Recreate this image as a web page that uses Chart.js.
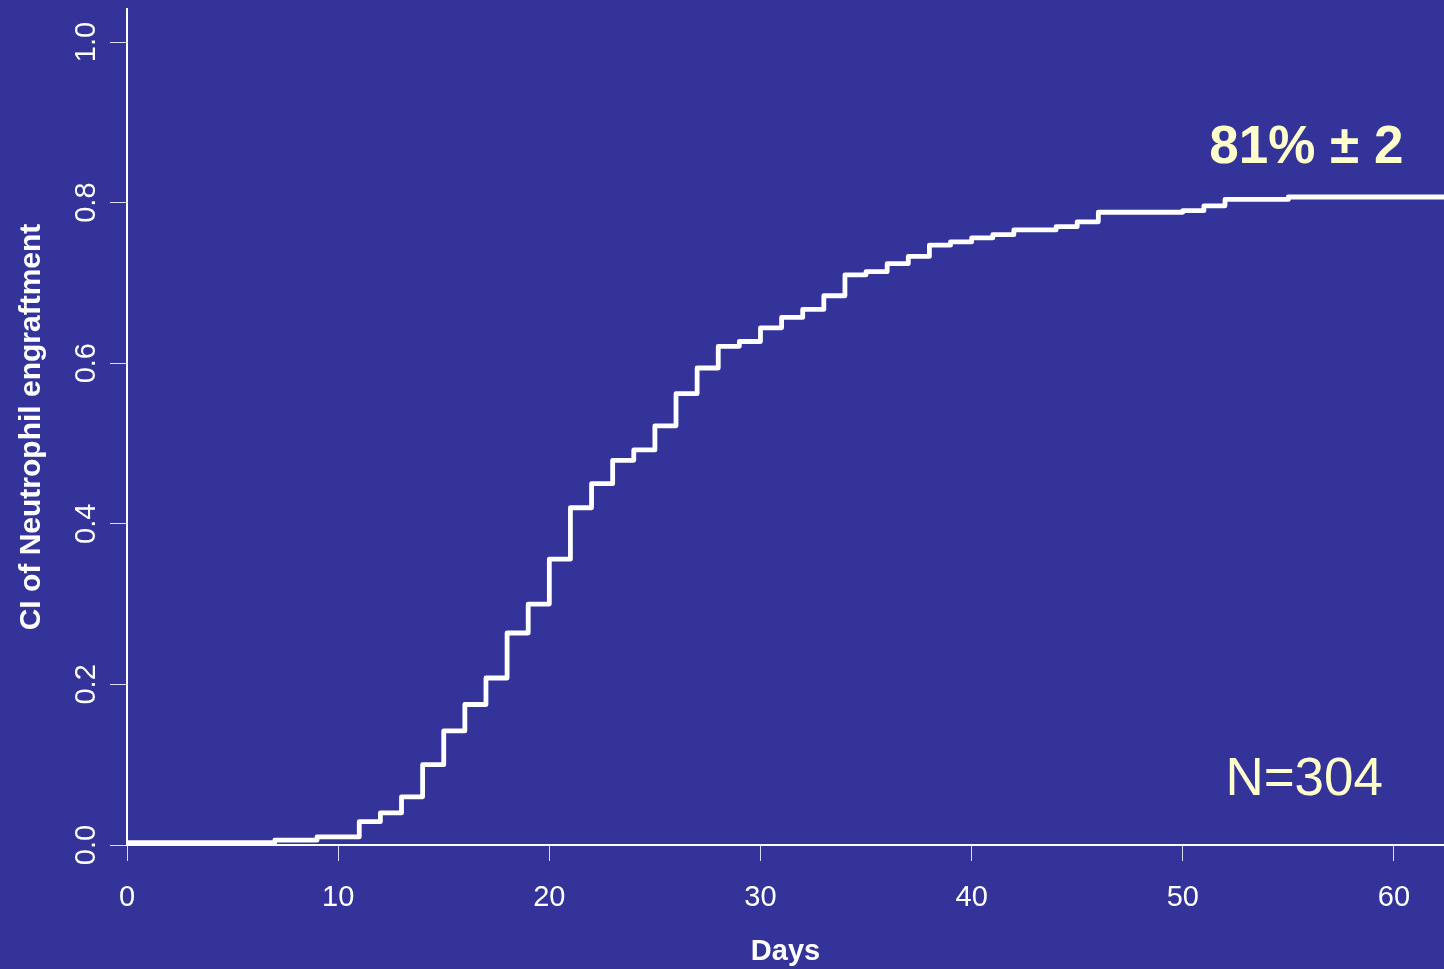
<!DOCTYPE html>
<html>
<head>
<meta charset="utf-8">
<script src="https://cdn.jsdelivr.net/npm/chart.js@4.4.1/dist/chart.umd.min.js"></script>
<style>
  html, body { margin: 0; padding: 0; background: #333399; }
  #wrap { width: 1444px; height: 969px; }
  canvas { display: block; }
</style>
</head>
<body>
<div id="wrap"><canvas id="c" width="1444" height="969"></canvas></div>
<script>
// Event days (step positions) and cumulative incidence of neutrophil engraftment
const days = [0, 7, 9, 11, 12, 13, 14, 15, 16, 17, 18, 19, 20, 21, 22, 23, 24, 25, 26, 27, 28, 29, 30,
  31, 32, 33, 34, 35, 36, 37, 38, 39, 40, 41, 42, 44, 45, 46, 50, 51, 52, 55, 62.4];
const cumInc = [0.003, 0.006, 0.010, 0.029, 0.040, 0.060, 0.100, 0.142, 0.175, 0.208, 0.264, 0.300, 0.356,
  0.420, 0.450, 0.479, 0.492, 0.522, 0.562, 0.594, 0.621, 0.627, 0.644, 0.657, 0.667, 0.684, 0.710,
  0.714, 0.724, 0.733, 0.747, 0.751, 0.756, 0.760, 0.766, 0.770, 0.776, 0.788, 0.790, 0.796, 0.804,
  0.807, 0.807];
const xTicks = [0, 10, 20, 30, 40, 50, 60];
const yTicks = [0.0, 0.2, 0.4, 0.6, 0.8, 1.0];
const yTickLabels = ['0.0', '0.2', '0.4', '0.6', '0.8', '1.0'];
const annotations = [
  { text: '81% \u00b1 2', x: 55.85, y: 0.849, weight: 'bold', size: 53 },
  { text: 'N=304', x: 55.75, y: 0.062, weight: 'normal', size: 53 }
];

const FONT = '"Liberation Sans", Arial, Helvetica, sans-serif';
Chart.defaults.font.family = FONT;
Chart.defaults.color = '#ffffff';

const textPlugin = {
  id: 'textPlugin',
  afterDraw(chart) {
    const ctx = chart.ctx;
    const xs = chart.scales.x, ys = chart.scales.y;
    ctx.save();
    ctx.fillStyle = '#ffffcc';
    ctx.textAlign = 'center';
    ctx.textBaseline = 'alphabetic';
    annotations.forEach(a => {
      ctx.font = a.weight + ' ' + a.size + 'px ' + FONT;
      ctx.fillText(a.text, xs.getPixelForValue(a.x), ys.getPixelForValue(a.y));
    });
    ctx.restore();
  }
};

new Chart(document.getElementById('c'), {
  type: 'line',
  data: {
    datasets: [{
      data: days.map((d, i) => ({ x: d, y: cumInc[i] })),
      stepped: 'before',
      borderColor: '#ffffff',
      borderWidth: 4.8,
      borderJoinStyle: 'round',
      borderCapStyle: 'round',
      pointRadius: 0,
      fill: false
    }]
  },
  options: {
    responsive: false,
    devicePixelRatio: 1,
    animation: false,
    layout: { padding: { top: 9, right: 0, left: 0, bottom: 0 } },
    plugins: { legend: { display: false }, tooltip: { enabled: false } },
    scales: {
      x: {
        type: 'linear',
        min: 0,
        max: 62.37,
        afterBuildTicks(s) { s.ticks = xTicks.map(v => ({ value: v })); },
        afterFit(s) { s.height = 124; s.paddingLeft = 0; s.paddingRight = 0; },
        border: { display: true, color: '#ffffff', width: 2 },
        grid: { drawOnChartArea: false, drawTicks: true, tickLength: 16, color: '#dcdcf2', lineWidth: 1 },
        ticks: {
          color: '#ffffff',
          font: { size: 29 },
          padding: 20,
          maxRotation: 0,
          minRotation: 0,
          callback: v => String(v)
        },
        title: {
          display: true,
          text: 'Days',
          color: '#ffffff',
          font: { size: 29, weight: 'bold' },
          padding: { top: 0, bottom: 0 }
        }
      },
      y: {
        type: 'linear',
        min: 0,
        max: 1.0411,
        afterBuildTicks(s) { s.ticks = yTicks.map(v => ({ value: v })); },
        afterFit(s) { s.width = 127; s.paddingTop = 0; s.paddingBottom = 0; },
        border: { display: true, color: '#ffffff', width: 2 },
        grid: { drawOnChartArea: false, drawTicks: true, tickLength: 17, color: '#dcdcf2', lineWidth: 1 },
        ticks: {
          color: '#ffffff',
          font: { size: 29 },
          padding: 3,
          minRotation: 90,
          maxRotation: 90,
          crossAlign: 'center',
          callback: (v, i) => yTickLabels[i]
        },
        title: {
          display: true,
          text: 'CI of Neutrophil engraftment',
          color: '#ffffff',
          font: { size: 30, weight: 'bold' },
          padding: { top: 14, bottom: 0 }
        }
      }
    }
  },
  plugins: [textPlugin]
});
</script>
</body>
</html>
